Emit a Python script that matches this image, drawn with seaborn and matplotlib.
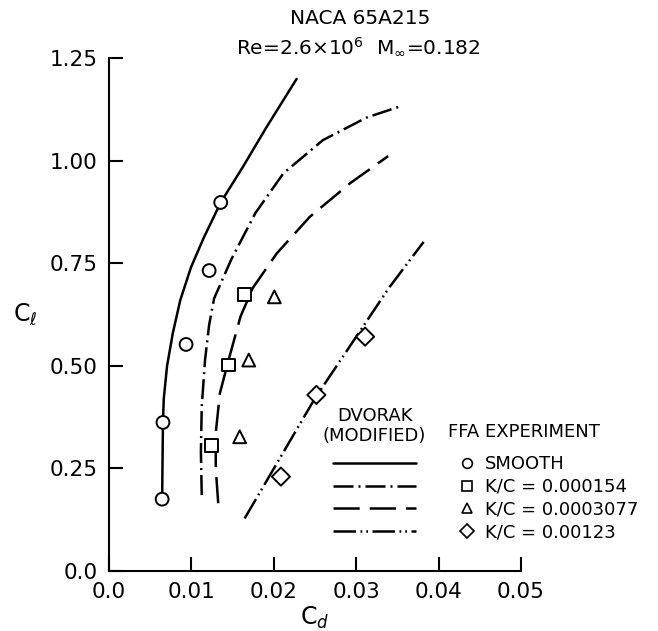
import matplotlib.pyplot as plt
from matplotlib.lines import Line2D
import seaborn as sns
import pandas as pd

# Dvorak (modified) prediction curves
smooth_curve_cd = [0.0065, 0.0066, 0.0067, 0.0071, 0.0078, 0.0087, 0.0100, 0.0115, 0.0136, 0.0163, 0.0192, 0.0228]
smooth_curve_cl = [0.175, 0.362, 0.420, 0.500, 0.580, 0.660, 0.740, 0.810, 0.898, 0.985, 1.083, 1.199]

kc154_curve_cd = [0.0113, 0.0112, 0.0113, 0.0117, 0.0122, 0.0128, 0.0149, 0.0178, 0.0212, 0.0260, 0.0313, 0.0355]
kc154_curve_cl = [0.185, 0.291, 0.400, 0.514, 0.600, 0.664, 0.760, 0.872, 0.969, 1.050, 1.105, 1.133]

kc3077_curve_cd = [0.0133, 0.0130, 0.0130, 0.0135, 0.0145, 0.0160, 0.0175, 0.0204, 0.0244, 0.0293, 0.0339]
kc3077_curve_cl = [0.165, 0.250, 0.336, 0.433, 0.510, 0.620, 0.690, 0.774, 0.863, 0.945, 1.011]

kc123_curve_cd = [0.0165, 0.0204, 0.0250, 0.0300, 0.0340, 0.0382]
kc123_curve_cl = [0.128, 0.262, 0.420, 0.570, 0.690, 0.802]

# FFA experiment points
smooth_cd = [0.0065, 0.0066, 0.0094, 0.0122, 0.0136]
smooth_cl = [0.175, 0.362, 0.552, 0.732, 0.898]
kc154_cd = [0.0125, 0.0145, 0.0165]
kc154_cl = [0.305, 0.502, 0.674]
kc3077_cd = [0.0159, 0.0170, 0.0201]
kc3077_cl = [0.327, 0.514, 0.668]
kc123_cd = [0.0209, 0.0252, 0.0311]
kc123_cl = [0.230, 0.429, 0.571]

series = ["smooth", "kc154", "kc3077", "kc123"]
labels = ["SMOOTH", "K/C = 0.000154", "K/C = 0.0003077", "K/C = 0.00123"]
dash_styles = {"smooth": "", "kc154": (8, 2, 0.8, 2), "kc3077": (10.5, 4), "kc123": (9, 1.8, 0.7, 1.6, 0.7, 1.8)}
marker_styles = {"smooth": "o", "kc154": "s", "kc3077": "^", "kc123": "D"}

x_ticks = [0.0, 0.01, 0.02, 0.03, 0.04, 0.05]
x_ticklabels = ["0.0", "0.01", "0.02", "0.03", "0.04", "0.05"]
y_ticks = [0.0, 0.25, 0.50, 0.75, 1.00, 1.25]
y_ticklabels = ["0.0", "0.25", "0.50", "0.75", "1.00", "1.25"]

curves = pd.concat([
    pd.DataFrame({"cd": smooth_curve_cd, "cl": smooth_curve_cl, "series": "smooth"}),
    pd.DataFrame({"cd": kc154_curve_cd, "cl": kc154_curve_cl, "series": "kc154"}),
    pd.DataFrame({"cd": kc3077_curve_cd, "cl": kc3077_curve_cl, "series": "kc3077"}),
    pd.DataFrame({"cd": kc123_curve_cd, "cl": kc123_curve_cl, "series": "kc123"}),
], ignore_index=True)

points = pd.concat([
    pd.DataFrame({"cd": smooth_cd, "cl": smooth_cl, "series": "smooth"}),
    pd.DataFrame({"cd": kc154_cd, "cl": kc154_cl, "series": "kc154"}),
    pd.DataFrame({"cd": kc3077_cd, "cl": kc3077_cl, "series": "kc3077"}),
    pd.DataFrame({"cd": kc123_cd, "cl": kc123_cl, "series": "kc123"}),
], ignore_index=True)

sns.set_style("ticks", {"text.color": "black", "axes.labelcolor": "black",
                        "xtick.color": "black", "ytick.color": "black",
                        "axes.edgecolor": "black"})
plt.rcParams["font.family"] = ["DejaVu Sans"]
plt.rcParams["mathtext.fontset"] = "dejavusans"

fig = plt.figure(figsize=(6.58, 6.31), dpi=100)
ax = fig.add_axes([0.1649, 0.0951, 0.6269, 0.813])

sns.lineplot(data=curves, x="cd", y="cl", style="series", style_order=series,
             dashes=dash_styles, sort=False, estimator=None, color="black",
             linewidth=1.8, legend=False, ax=ax)
sns.scatterplot(data=points, x="cd", y="cl", style="series", style_order=series,
                markers=marker_styles, color="white", edgecolor="black",
                linewidth=1.4, s=85, legend=False, ax=ax, zorder=3)

ax.set_xlim(0, 0.05)
ax.set_ylim(0, 1.25)
ax.set_xticks(x_ticks)
ax.set_xticklabels(x_ticklabels)
ax.set_yticks(y_ticks)
ax.set_yticklabels(y_ticklabels)
ax.tick_params(direction="in", length=10, width=1.5, labelsize=15.5, pad=8,
               color="black", labelcolor="black")
for side in ["top", "right"]:
    ax.spines[side].set_visible(False)
for side in ["left", "bottom"]:
    ax.spines[side].set_linewidth(1.5)
    ax.spines[side].set_color("black")

ax.set_xlabel(r"C$_d$", fontsize=17)
ax.set_ylabel(r"C$_\ell$", fontsize=17, rotation=0)
ax.xaxis.set_label_coords(0.5, -0.092)
ax.xaxis.label.set_va("center")
ax.yaxis.set_label_coords(-0.202, 0.5)
ax.yaxis.label.set_va("center")
ax.yaxis.label.set_ha("center")

fig.text(0.547, 0.970, "NACA 65A215", ha="center", va="center", fontsize=14.5)
fig.text(0.545, 0.925, r"Re=2.6$\times$10$^6$  M$_\infty$=0.182", ha="center", va="center", fontsize=14.5)

# legend: theory lines on the left, experiment markers on the right
line_handles = [Line2D([], [], color="black", linewidth=1.8,
                       linestyle=(0, dash_styles[s]) if dash_styles[s] else "-") for s in series]
marker_handles = [Line2D([], [], color="black", linestyle="none", marker=marker_styles[s],
                         markerfacecolor="white", markersize=7, markeredgewidth=1.2) for s in series]

leg1 = ax.legend(line_handles, ["", "", "", ""], loc="upper left", bbox_to_anchor=(0.545, 0.226),
                 frameon=False, fontsize=13, handlelength=4.6, labelspacing=0.27,
                 borderpad=0, borderaxespad=0, handletextpad=0)
ax.add_artist(leg1)
ax.legend(marker_handles, labels, loc="upper left", bbox_to_anchor=(0.847, 0.226),
          frameon=False, fontsize=13, handlelength=1.0, labelspacing=0.27,
          borderpad=0, borderaxespad=0, handletextpad=0.5, labelcolor="black")

ax.text(0.645, 0.283, "DVORAK\n(MODIFIED)", transform=ax.transAxes, ha="center", va="center",
        fontsize=13, linespacing=1.1)
ax.text(0.823, 0.27, "FFA EXPERIMENT", transform=ax.transAxes, ha="left", va="center", fontsize=13)

fig.savefig("out.png", dpi=100, facecolor="white")
